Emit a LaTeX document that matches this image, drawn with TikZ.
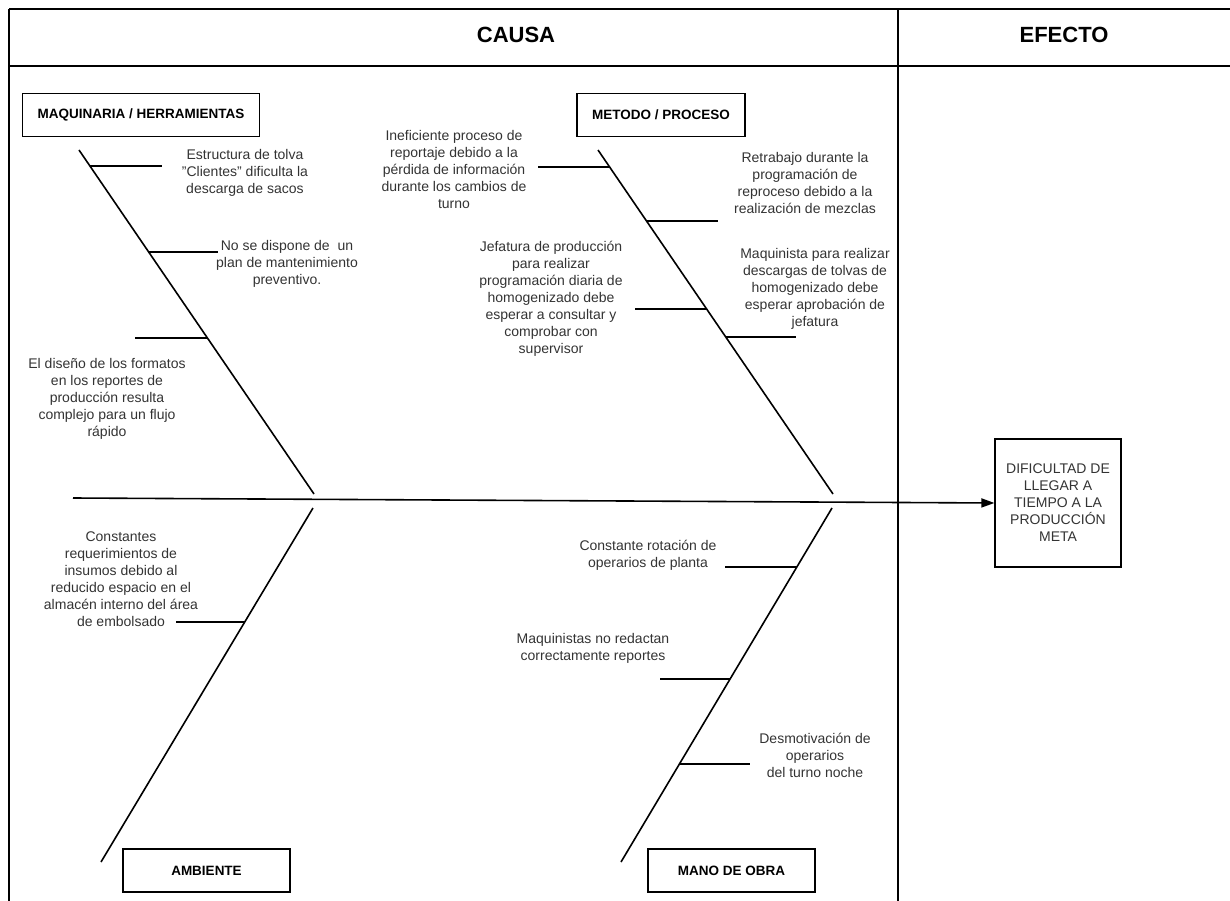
\documentclass[tikz,border=0pt]{standalone}
\usepackage{fontspec}
\setmainfont{Liberation Sans}
\usetikzlibrary{arrows.meta,calc}
\definecolor{ink}{HTML}{333333}
\begin{document}
\begin{tikzpicture}[x=1pt,y=-1pt,
  frame/.style={line width=1.4pt,black},
  bone/.style={line width=1.6pt,black},
  rib/.style={line width=1.8pt,black},
  catbox/.style={draw,line width=1.2pt,minimum height=43pt,inner sep=0pt,
    font=\fontsize{13.5}{16}\selectfont\bfseries},
  cause/.style={align=center,inner sep=0pt,text=ink,font=\fontsize{14}{17}\selectfont},
  title/.style={inner sep=0pt,font=\fontsize{22}{26}\selectfont\bfseries}]
\useasboundingbox (0,0) rectangle (1230,901);

% table frame
\coordinate (tl) at (9,9);
\coordinate (tr) at (1230,9);
\coordinate (bl) at (9,901);
\coordinate (hl) at (9,66);
\coordinate (hr) at (1230,66);
\coordinate (dtop) at (898,9);
\coordinate (dmid) at (898,66);
\coordinate (dbot) at (898,901);
\draw[frame] (tl) -- (tr);
\draw[frame] (tl) -- (bl);
\draw[frame] (hl) -- (hr);
\draw[line width=1.2pt] (dtop) -- (dmid);
\draw[line width=2.6pt] (dmid) -- (dbot);

\node[title] (causa) at (516,35) {CAUSA};
\node[title] (efecto) at (1064,35) {EFECTO};

% category boxes
\node[catbox,minimum width=237pt] (maq) at (141,115) {MAQUINARIA / HERRAMIENTAS};
\node[catbox,minimum width=168pt] (met) at (661,115) {METODO / PROCESO};
\node[catbox,minimum width=167pt] (amb) at (206.5,870.5) {AMBIENTE};
\node[catbox,minimum width=167pt] (mano) at (731.5,870.5) {MANO DE OBRA};

% effect
\node[draw,line width=1.2pt,minimum width=126pt,minimum height=128pt,
  align=center,text=ink,font=\fontsize{14}{17}\selectfont] (efec) at (1058,503)
  {DIFICULTAD DE\\LLEGAR A\\TIEMPO A LA\\PRODUCCIÓN\\META};

% spine
\coordinate (sp) at (73,498);
\draw[bone,-{Triangle[length=13pt,width=9pt]}] (sp) -- (efec.west);

% bones
\coordinate (b1a) at (79,150);  \coordinate (b1b) at (314,494);
\coordinate (b2a) at (598,150); \coordinate (b2b) at (833,494);
\coordinate (b3a) at (313,508); \coordinate (b3b) at (101,862);
\coordinate (b4a) at (832,508); \coordinate (b4b) at (621,862);
\draw[bone] (b1a) -- (b1b);
\draw[bone] (b2a) -- (b2b);
\draw[bone] (b3a) -- (b3b);
\draw[bone] (b4a) -- (b4b);

% points where the ribs meet the bones
\path (b1a) -- (b1b) coordinate[pos=0.0465] (r11) coordinate[pos=0.2965] (r12) coordinate[pos=0.5465] (r13);
\path (b2a) -- (b2b) coordinate[pos=0.0494] (r21) coordinate[pos=0.2064] (r22) coordinate[pos=0.4622] (r23) coordinate[pos=0.5436] (r24);
\path (b3a) -- (b3b) coordinate[pos=0.3220] (r31);
\path (b4a) -- (b4b) coordinate[pos=0.1667] (r41) coordinate[pos=0.4831] (r42) coordinate[pos=0.7232] (r43);

% ribs
\draw[rib] (r11) -- ++(72,0);
\draw[rib] (r12) -- ++(69,0);
\draw[rib] (r13) -- ++(-72,0);
\draw[rib] (r21) -- ++(-72,0);
\draw[rib] (r22) -- ++(71,0);
\draw[rib] (r23) -- ++(-72,0);
\draw[rib] (r24) -- ++(70,0);
\draw[rib] (r31) -- ++(-69,0);
\draw[rib] (r41) -- ++(-72,0);
\draw[rib] (r42) -- ++(-70,0);
\draw[rib] (r43) -- ++(71,0);

% causes
\node[cause] (c11) at (245,173) {Estructura de tolva\\"Clientes" dificulta la\\descarga de sacos};
\node[cause] (c12) at (287,264) {No se dispone de\ \ un\\plan de mantenimiento\\preventivo.};
\node[cause] (c13) at (107,399) {El diseño de los formatos\\en los reportes de\\producción resulta\\complejo para un flujo\\rápido};
\node[cause] (c21) at (454,169) {Ineficiente proceso de\\reportaje debido a la\\pérdida de información\\durante los cambios de\\turno};
\node[cause] (c22) at (805,183) {Retrabajo durante la\\programación de\\reproceso debido a la\\realización de mezclas};
\node[cause] (c23) at (551,299) {Jefatura de producción\\para realizar\\programación diaria de\\homogenizado debe\\esperar a consultar y\\comprobar con\\supervisor};
\node[cause] (c24) at (815,289) {Maquinista para realizar\\descargas de tolvas de\\homogenizado debe\\esperar aprobación de\\jefatura};
\node[cause] (c31) at (121,579) {Constantes\\requerimientos de\\insumos debido al\\reducido espacio en el\\almacén interno del área\\de embolsado};
\node[cause] (c41) at (648,555) {Constante rotación de\\operarios de planta};
\node[cause] (c42) at (593,648) {Maquinistas no redactan\\correctamente reportes};
\node[cause] (c43) at (815,755) {Desmotivación de\\operarios\\del turno noche};
\end{tikzpicture}
\end{document}
